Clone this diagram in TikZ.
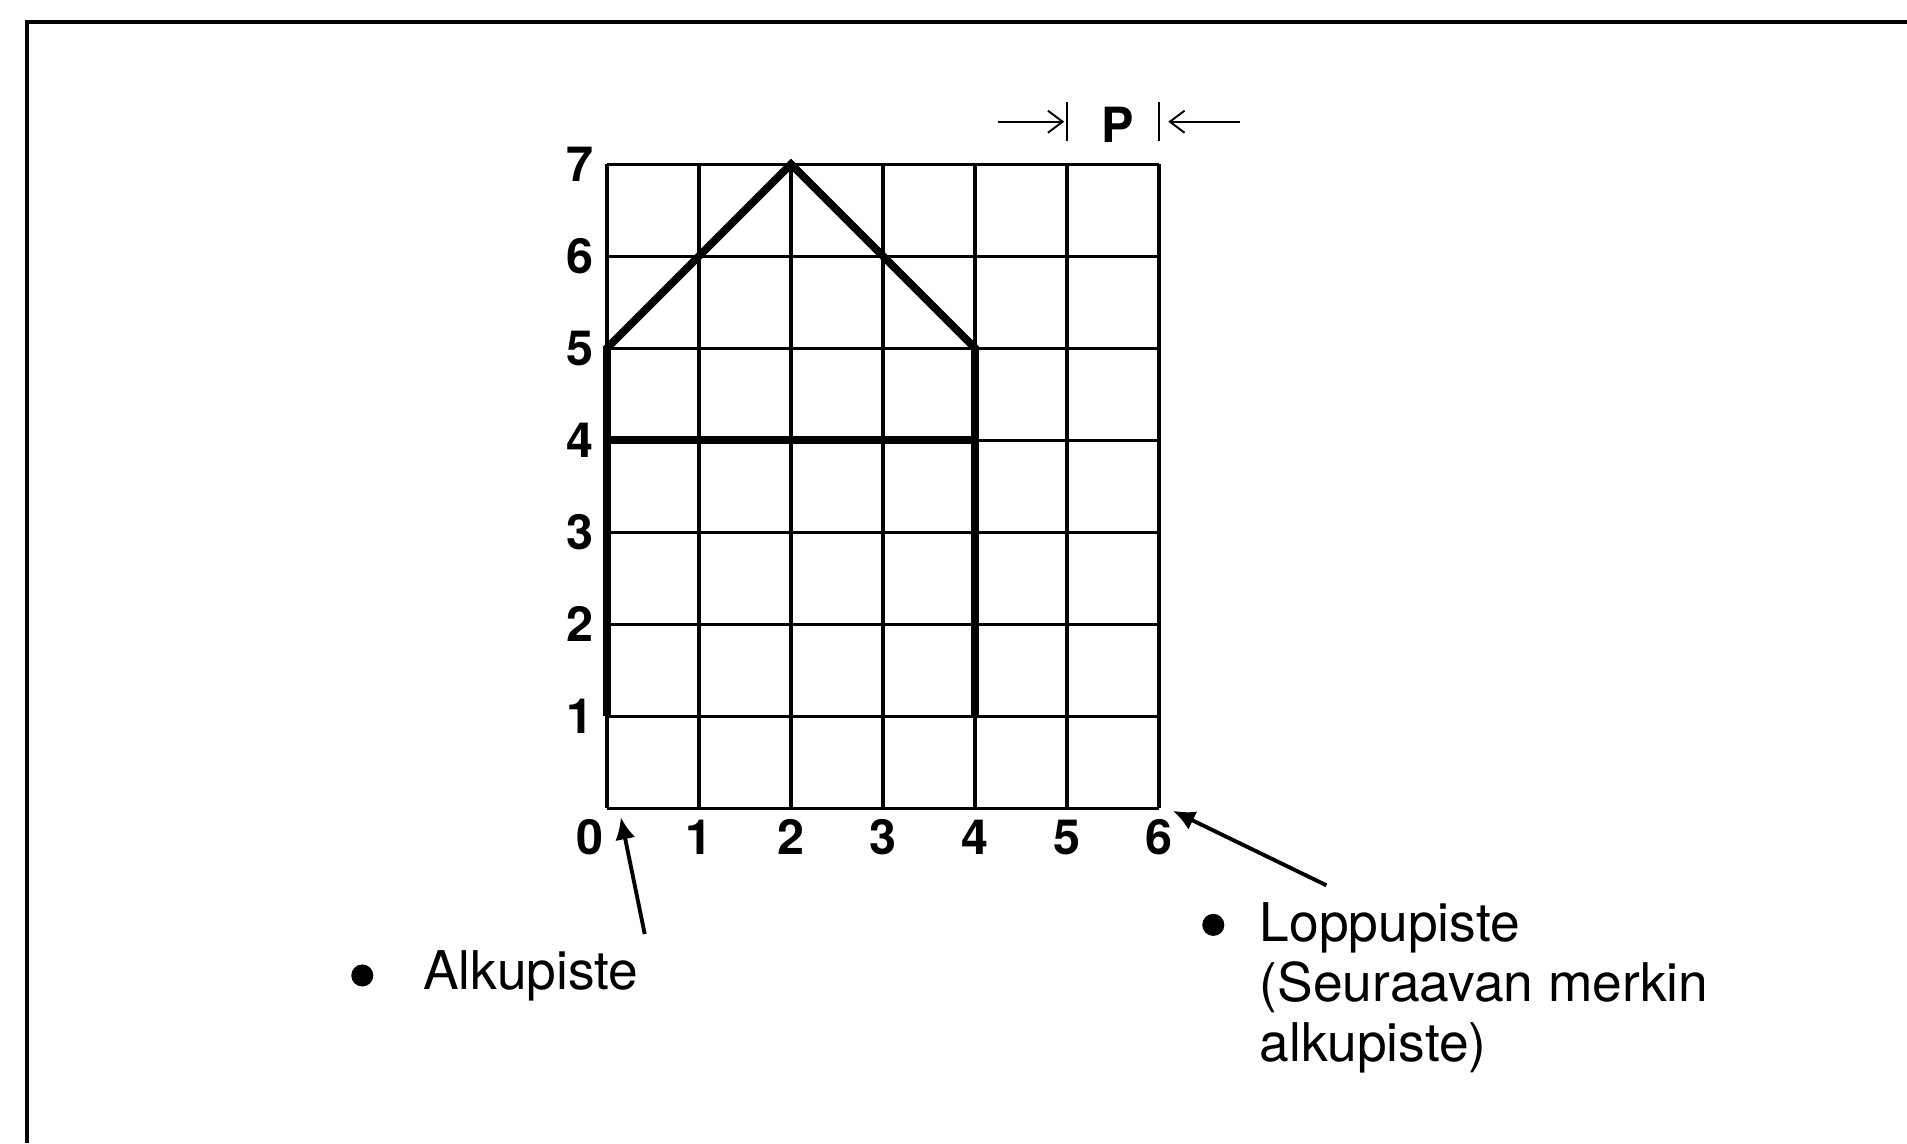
\documentclass[tikz,border=0pt]{standalone}
\usepackage{fontspec}
\setmainfont{TeX Gyre Heros}
\usetikzlibrary{positioning, arrows.meta}
\tikzset{
  gridline/.style={line width=0.95pt},
  houseline/.style={line width=2.4pt},
  num/.style={font=\bfseries\fontsize{15}{17}\selectfont, inner sep=0pt, anchor=base},
  caption/.style={font=\fontsize{16.5}{18.6}\selectfont, align=left, inner sep=0pt},
  dot/.style={circle, fill, inner sep=0pt, minimum size=2.4mm},
  pointer/.style={-{Latex[length=2.4mm, width=2.2mm]}, line width=1.2pt},
  dimarrow/.style={-{Straight Barb[length=1.6mm, width=2.4mm]}, line width=0.6pt},
}

\begin{document}
\begin{tikzpicture}[node distance=5.3mm]
  \useasboundingbox (-6.598,-3.641) rectangle (14.13,8.783);

  % Frame (runs off the page on the right and bottom)
  \draw[line width=1.25pt] (-6.304,-3.641) -- (-6.304,8.543) -- (14.13,8.543);

  % Grid
  \draw[gridline] (0,0) grid (6,7);
  \coordinate (startpt) at (0,0);
  \coordinate (endpt) at (6,0);

  % House
  \draw[houseline] (0,1) -- (0,5) -- (2,7) -- (4,5) -- (4,1);
  \draw[houseline] (0,4) -- (4,4);

  % Axis numbers
  \foreach \k in {1,...,7}
    \node[num] (y\k) at (-0.29,\k-0.19) {\k};
  \node[num] (x0) at (-0.18,-0.51) {0};
  \foreach \k in {1,...,6}
    \node[num] (x\k) at (\k,-0.51) {\k};

  % Character width P
  \node[num] (pitch) at (5.55,7.23) {P};
  \coordinate (pleft) at (5,7.46);
  \coordinate (pright) at (6,7.46);
  \draw[line width=0.6pt] ([yshift=-2.1mm]pleft) -- ([yshift=2.1mm]pleft);
  \draw[line width=0.6pt] ([yshift=-2.1mm]pright) -- ([yshift=2.1mm]pright);
  \draw[dimarrow] ([xshift=-7.5mm]pleft) -- ([xshift=-0.3mm]pleft);
  \draw[dimarrow] ([xshift=8.8mm]pright) -- ([xshift=1mm]pright);

  % Start and end point labels
  \node[dot] (startdot) at (-2.66,-1.82) {};
  \node[caption, right=of startdot] (starttext) {Alkupiste};
  \node[dot] (enddot) at (6.59,-1.27) {};
  \node[caption, anchor=base west] (endtext) at (7.09,-2.76)
    {Loppupiste\\(Seuraavan merkin\\alkupiste)};

  % Pointers
  \coordinate (starttail) at (0.41,-1.37);
  \coordinate (endtail) at (7.82,-0.84);
  \draw[pointer] (starttail) -- ([shift={(0.15,-0.1)}]startpt);
  \draw[pointer] (endtail) -- ([shift={(0.15,-0.03)}]endpt);
\end{tikzpicture}
\end{document}
